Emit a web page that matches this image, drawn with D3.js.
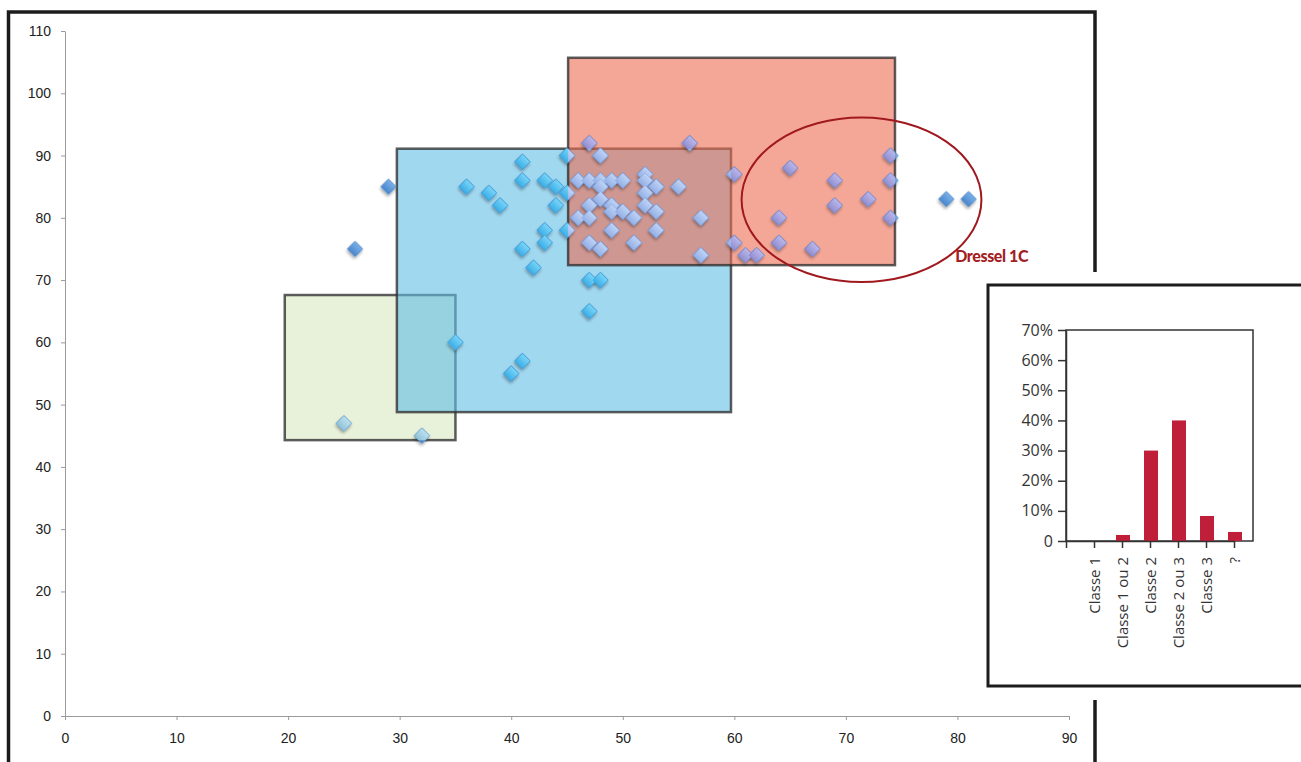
<!DOCTYPE html>
<html>
<head>
<meta charset="utf-8">
<script src="https://cdn.jsdelivr.net/npm/d3@7"></script>
<style>
  body { margin: 0; background: #fff; }
  svg { display: block; }
</style>
</head>
<body>
<div id="chart"></div>
<script>
var amphorae = [
  [26,75],[29,85],[25,47],[32,45],[35,60],[36,85],[38,84],[39,82],[40,55],[41,57],
  [41,89],[41,86],[41,75],[42,72],[43,86],[43,78],[43,76],[44,85],[44,82],[45,90],
  [45,84],[45,78],[46,86],[46,80],[47,92],[47,86],[47,82],[47,80],[47,76],[47,70],
  [47,65],[48,90],[48,86],[48,85],[48,83],[48,75],[48,70],[49,86],[49,82],[49,81],
  [49,78],[50,86],[50,81],[51,80],[51,76],[52,87],[52,86],[52,84],[52,82],[53,85],
  [53,81],[53,78],[55,85],[56,92],[57,80],[57,74],[60,87],[60,76],[61,74],[62,74],
  [64,80],[64,76],[65,88],[67,75],[69,86],[69,82],[72,83],[74,90],[74,86],[74,80],
  [79,83],[81,83]
];

// typology zones in data units
var zones = [
  { name: "green", x0: 19.7, x1: 35, y0: 44.3, y1: 67.6 },
  { name: "blue", x0: 29.75, x1: 59.7, y0: 48.8, y1: 91.1 },
  { name: "red", x0: 45.1, x1: 74.4, y0: 72.4, y1: 105.7 }
];
var dressel = { label: "Dressel 1C", cx: 71.4, cy: 82.9, rx: 10.75, ry: 13.2, tx: 79.8, ty: 72.9 };

var xTicks = [0, 10, 20, 30, 40, 50, 60, 70, 80, 90];
var yTicks = [0, 10, 20, 30, 40, 50, 60, 70, 80, 90, 100, 110];

// inset bar chart
var classes = ["Classe 1", "Classe 1 ou 2", "Classe 2", "Classe 2 ou 3", "Classe 3", "?"];
var shares = [0, 0.02, 0.30, 0.40, 0.083, 0.03];
var shareTicks = [0, 0.1, 0.2, 0.3, 0.4, 0.5, 0.6, 0.7];

var zoneFill = { green: "#d9e8bf", blue: "#61bee6", red: "#ee6c52" };

var W = 1301, H = 762;
var svg = d3.select("#chart").append("svg")
    .attr("width", W)
    .attr("height", H);

var defs = svg.append("defs");

var shadow = defs.append("filter").attr("id", "shadow")
    .attr("x", "-50%").attr("y", "-50%").attr("width", "200%").attr("height", "200%");
shadow.append("feDropShadow")
    .attr("dx", 1).attr("dy", 2).attr("stdDeviation", 1.4)
    .attr("flood-color", "#000").attr("flood-opacity", 0.35);

function gradient(id, top, bottom) {
    var g = defs.append("linearGradient").attr("id", id)
        .attr("x1", 0).attr("y1", 0).attr("x2", 0).attr("y2", 1);
    g.append("stop").attr("offset", "0%").attr("stop-color", top);
    g.append("stop").attr("offset", "100%").attr("stop-color", bottom);
}
gradient("g-base", "#79b0e8", "#4a86cc");
gradient("g-green", "#bfe0ee", "#8fc3da");
gradient("g-blue", "#7ad4f8", "#3bafe6");
gradient("g-red", "#bab7ea", "#928fd2");
gradient("g-both", "#c0d3f5", "#93b0e6");

var x = d3.scaleLinear().domain([0, 90]).range([65, 1069]);
var y = d3.scaleLinear().domain([0, 110]).range([716, 31]);

// outer frame
svg.append("rect")
    .attr("x", 8.5).attr("y", 12)
    .attr("width", 1095 - 8.5).attr("height", 800)
    .attr("fill", "none")
    .attr("stroke", "#1c1c1c")
    .attr("stroke-width", 3.5);

// axes
var yAxis = svg.append("g")
    .attr("transform", "translate(65,0)")
    .call(d3.axisLeft(y).tickValues(yTicks).tickSize(4).tickSizeOuter(0).tickPadding(10));
var xAxis = svg.append("g")
    .attr("transform", "translate(0,716)")
    .call(d3.axisBottom(x).tickValues(xTicks).tickSize(4).tickSizeOuter(0).tickPadding(13));

[xAxis, yAxis].forEach(function (a) {
    a.select(".domain").attr("stroke", "#9a9a9a");
    a.selectAll(".tick line").attr("stroke", "#9a9a9a");
    a.selectAll(".tick text")
        .attr("fill", "#222")
        .style("font-family", "'Liberation Sans', Arial, sans-serif")
        .style("font-size", "14px");
});

// zones
zones.forEach(function (z) {
    svg.append("rect")
        .attr("x", x(z.x0)).attr("y", y(z.y1))
        .attr("width", x(z.x1) - x(z.x0))
        .attr("height", y(z.y0) - y(z.y1))
        .attr("fill", zoneFill[z.name])
        .attr("fill-opacity", 0.6)
        .attr("stroke", "#2e2e2e")
        .attr("stroke-opacity", 0.78)
        .attr("stroke-width", 2.5);

    defs.append("clipPath").attr("id", "clip-" + z.name)
        .append("rect")
        .attr("x", x(z.x0)).attr("y", y(z.y1))
        .attr("width", x(z.x1) - x(z.x0))
        .attr("height", y(z.y0) - y(z.y1));
});

var diamond = d3.symbol().type(d3.symbolSquare).size(115);

function drawPoints(parent, grad, edge, withShadow) {
    parent.selectAll("path")
        .data(amphorae)
        .enter()
        .append("path")
        .attr("d", diamond)
        .attr("transform", function (d) {
            return "translate(" + x(d[0]) + "," + y(d[1]) + ") rotate(45)";
        })
        .attr("fill", "url(#" + grad + ")")
        .attr("stroke", edge)
        .attr("stroke-width", 0.7)
        .attr("filter", withShadow ? "url(#shadow)" : null);
}

drawPoints(svg.append("g"), "g-base", "#4f88c8", true);
drawPoints(svg.append("g").attr("clip-path", "url(#clip-green)"), "g-green", "#86bcd6", false);
drawPoints(svg.append("g").attr("clip-path", "url(#clip-blue)"), "g-blue", "#3aa8de", false);
drawPoints(svg.append("g").attr("clip-path", "url(#clip-red)"), "g-red", "#8a87cc", false);
drawPoints(svg.append("g").attr("clip-path", "url(#clip-red)")
    .append("g").attr("clip-path", "url(#clip-blue)"), "g-both", "#8eaae0", false);

// Dressel 1C ellipse
svg.append("ellipse")
    .attr("cx", x(dressel.cx)).attr("cy", y(dressel.cy))
    .attr("rx", x(dressel.cx + dressel.rx) - x(dressel.cx))
    .attr("ry", y(dressel.cy - dressel.ry) - y(dressel.cy))
    .attr("fill", "none")
    .attr("stroke", "#a0191e")
    .attr("stroke-width", 2);

svg.append("text")
    .attr("x", x(dressel.tx)).attr("y", y(dressel.ty))
    .attr("fill", "#a31f24")
    .style("font-family", "Lato, 'Open Sans', sans-serif")
    .style("font-weight", "900")
    .style("font-size", "16px")
    .style("letter-spacing", "-0.4px")
    .text(dressel.label);

// inset panel
svg.append("rect")
    .attr("x", 975).attr("y", 272).attr("width", 340).attr("height", 428)
    .attr("fill", "#fff");
svg.append("rect")
    .attr("x", 988).attr("y", 285).attr("width", 340).attr("height", 401)
    .attr("fill", "#fff")
    .attr("stroke", "#1c1c1c")
    .attr("stroke-width", 3);

var yb = d3.scaleLinear().domain([0, 0.7]).range([541, 330]);
var xb = d3.scalePoint().domain([""].concat(classes)).range([1066, 1234]);

svg.append("rect")
    .attr("x", 1066).attr("y", 330)
    .attr("width", 1253 - 1066).attr("height", 541 - 330)
    .attr("fill", "none")
    .attr("stroke", "#333")
    .attr("stroke-width", 1.5);

svg.selectAll(".bar")
    .data(classes)
    .enter()
    .append("rect")
    .attr("class", "bar")
    .attr("x", function (d) { return xb(d) - 6; })
    .attr("y", function (d, i) { return yb(shares[i]); })
    .attr("width", 14)
    .attr("height", function (d, i) { return yb(0) - yb(shares[i]); })
    .attr("fill", "#c01f3a");

var ybAxis = svg.append("g")
    .attr("transform", "translate(1066,0)")
    .call(d3.axisLeft(yb).tickValues(shareTicks).tickSize(8).tickSizeOuter(0).tickPadding(5)
        .tickFormat(function (d) { return d === 0 ? "0" : Math.round(d * 100) + "%"; }));

var xbAxis = svg.append("g")
    .attr("transform", "translate(0,541)")
    .call(d3.axisBottom(xb).tickSize(7).tickSizeOuter(0));

xbAxis.selectAll(".tick text")
    .attr("transform", "rotate(-90)")
    .attr("x", -16)
    .attr("y", 0)
    .attr("dy", "0.35em")
    .style("text-anchor", "end");

[ybAxis, xbAxis].forEach(function (a) {
    a.select(".domain").attr("stroke", "#333").attr("stroke-width", 1.5);
    a.selectAll(".tick line").attr("stroke", "#333").attr("stroke-width", 1.5);
    a.selectAll(".tick text")
        .attr("fill", "#333")
        .style("font-family", "'Open Sans', sans-serif");
});
ybAxis.selectAll(".tick text").style("font-size", "16px");
xbAxis.selectAll(".tick text").style("font-size", "15px");
</script>
</body>
</html>
